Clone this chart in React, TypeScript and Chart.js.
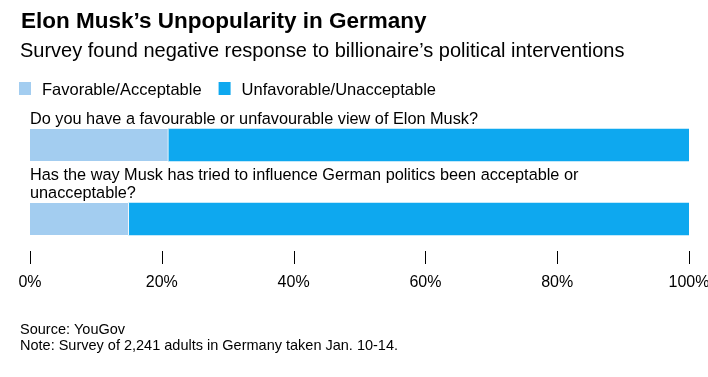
import React, { useEffect, useRef } from "react";
import { Chart, registerables } from "chart.js";

Chart.register(...registerables);

const titleText = "Elon Musk’s Unpopularity in Germany";
const subtitleText = "Survey found negative response to billionaire’s political interventions";
const questions: string[][] = [
  ["Do you have a favourable or unfavourable view of Elon Musk?"],
  ["Has the way Musk has tried to influence German politics been acceptable or", "unacceptable?"],
];
const seriesNames = ["Favorable/Acceptable", "Unfavorable/Unacceptable"];
const favorable = [21, 15];
const unfavorable = [79, 85];
const xTickValues = [0, 20, 40, 60, 80, 100];
const sourceLines = ["Source: YouGov", "Note: Survey of 2,241 adults in Germany taken Jan. 10-14."];
const colors = ["#a3cdf0", "#0ea8ef"];
const FONT = '"Liberation Sans", Arial, Helvetica, sans-serif';
const BAR = 32;

const textPlugin = {
  id: "textPlugin",
  afterDraw(chart: any) {
    const ctx = chart.ctx as CanvasRenderingContext2D;
    const area = chart.chartArea;
    const xs = chart.scales.x;
    const ys = chart.scales.y;
    ctx.save();
    ctx.textAlign = "left";
    ctx.textBaseline = "alphabetic";
    ctx.fillStyle = "#000";
    ctx.font = `bold 22.5px ${FONT}`;
    ctx.fillText(titleText, 21, 27.5);
    ctx.font = `20px ${FONT}`;
    ctx.fillText(subtitleText, 20, 57);

    ctx.font = `16.5px ${FONT}`;
    let lx = 19;
    seriesNames.forEach((name, i) => {
      ctx.fillStyle = colors[i];
      ctx.fillRect(lx, 82, 12, 13);
      ctx.fillStyle = "#000";
      ctx.fillText(name, lx + 23, 95);
      lx += 23 + ctx.measureText(name).width + 17;
    });

    ctx.font = `16.3px ${FONT}`;
    questions.forEach((lines, i) => {
      const top = ys.getPixelForValue(i) - BAR / 2;
      lines.forEach((line, j) => {
        ctx.fillText(line, area.left, top - 5 - (lines.length - 1 - j) * 18);
      });
    });

    ctx.strokeStyle = "#000";
    ctx.lineWidth = 1;
    xs.ticks.forEach((t: any) => {
      const px = Math.round(xs.getPixelForValue(t.value)) + 0.5;
      ctx.beginPath();
      ctx.moveTo(px, area.bottom - 5);
      ctx.lineTo(px, area.bottom + 8);
      ctx.stroke();
    });

    ctx.font = `14.5px ${FONT}`;
    sourceLines.forEach((l, i) => ctx.fillText(l, 20, 334 + i * 15.5));
    ctx.restore();
  },
};

export default function App() {
  const ref = useRef<HTMLCanvasElement | null>(null);
  useEffect(() => {
    if (!ref.current) return;
    const chart = new Chart(ref.current, {
      type: "bar",
      data: {
        labels: questions.map((q) => q.join(" ")),
        datasets: [
          {
            label: seriesNames[0],
            data: favorable,
            backgroundColor: colors[0],
            borderColor: "#ffffff",
            borderWidth: { top: 0, right: 1, bottom: 0, left: 0 },
            borderSkipped: false,
            barThickness: BAR,
          },
          {
            label: seriesNames[1],
            data: unfavorable,
            backgroundColor: colors[1],
            borderWidth: 0,
            barThickness: BAR,
          },
        ],
      },
      options: {
        indexAxis: "y",
        responsive: false,
        animation: false,
        layout: { padding: { top: 108, left: 30, right: 19, bottom: 0 } },
        plugins: {
          legend: { display: false },
          title: { display: false },
          tooltip: { enabled: false },
        },
        scales: {
          x: {
            type: "linear",
            stacked: true,
            min: 0,
            max: 100,
            afterBuildTicks: (scale: any) => {
              scale.ticks = xTickValues.map((v) => ({ value: v }));
            },
            afterFit: (scale: any) => {
              scale.height = 121;
              scale.paddingLeft = 0;
              scale.paddingRight = 0;
            },
            grid: { display: false, drawTicks: false, tickLength: 0 },
            border: { display: false },
            ticks: {
              padding: 17,
              color: "#000",
              font: { family: FONT, size: 16 },
              maxRotation: 0,
              autoSkip: false,
              callback: (v: any) => `${v}%`,
            },
          },
          y: {
            type: "category",
            stacked: true,
            offset: true,
            display: false,
            grid: { display: false },
          },
        },
      },
      plugins: [textPlugin],
    });
    return () => chart.destroy();
  }, []);
  return (
    <div style={{ position: "absolute", left: 0, top: 0, width: 708, height: 377, background: "#fff" }}>
      <canvas ref={ref} width={708} height={377} style={{ display: "block", width: 708, height: 377 }} />
    </div>
  );
}
